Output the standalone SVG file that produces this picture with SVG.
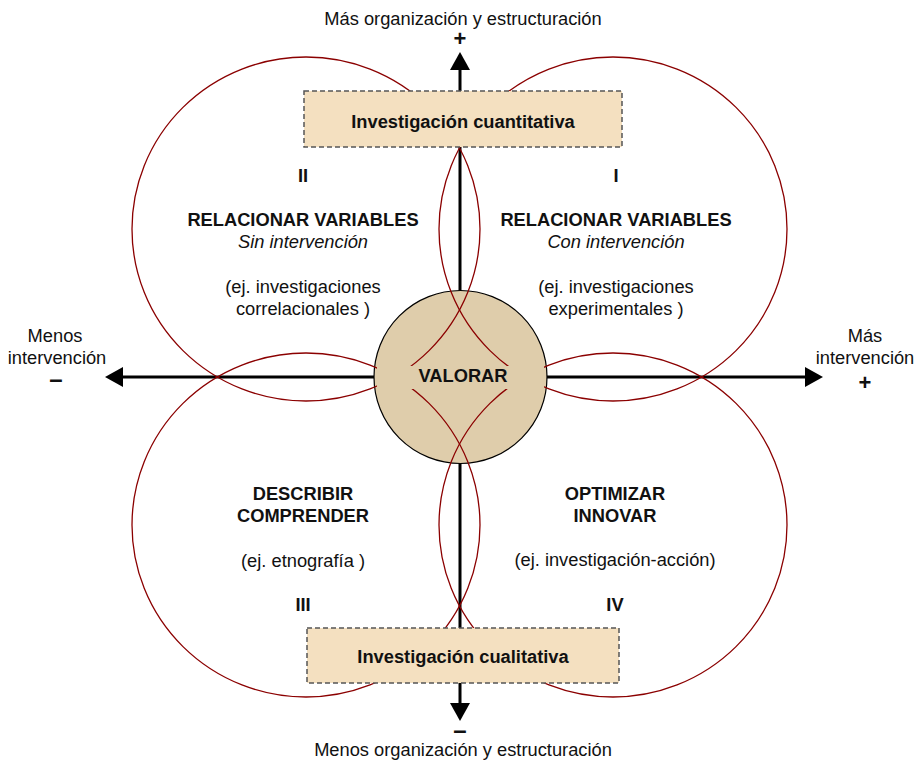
<svg xmlns="http://www.w3.org/2000/svg" width="914" height="760" viewBox="0 0 914 760">
  <defs>
    <marker id="arrow" viewBox="0 0 18 20" refX="0" refY="10" markerWidth="18" markerHeight="20" markerUnits="userSpaceOnUse" orient="auto">
      <path d="M0,0 L18,10 L0,20 Z" fill="#000"/>
    </marker>
    <style>
      text { font-family: "Liberation Sans", Arial, sans-serif; font-size: 18.3px; fill: #111; text-anchor: middle; }
      .b { font-weight: bold; }
      .i { font-style: italic; }
      .axis { stroke: #000; stroke-width: 3; fill: none; marker-end: url(#arrow); }
      .lobe { fill: none; stroke: #8b0000; stroke-width: 1.3; }
      .box { fill: #f4e0c0; stroke: #555; stroke-width: 1.5; stroke-dasharray: 5 3; }
      .minus { font-weight: bold; font-size: 24px; }
      .plus { font-weight: bold; font-size: 22px; }
    </style>
  </defs>
  <rect width="914" height="760" fill="#fff"/>

  <g id="connectors">
    <path class="axis" d="M460,377 L460,70"/>
    <path class="axis" d="M460,377 L460,703"/>
    <path class="axis" d="M460,377 L123,377"/>
    <path class="axis" d="M460,377 L805,377"/>
  </g>

  <g id="valorar-circle">
    <circle cx="460.5" cy="377" r="86.5" fill="#dfcdab" stroke="#000" stroke-width="1.2"/>
  </g>

  <g id="q2">
    <ellipse class="lobe" cx="306" cy="229" rx="174" ry="172"/>
    <text class="b" x="303" y="182">II</text>
    <text class="b" x="303" y="226">RELACIONAR VARIABLES</text>
    <text class="i" x="303" y="248">Sin intervención</text>
    <text x="303" y="293">(ej. investigaciones</text>
    <text x="303" y="315">correlacionales )</text>
  </g>

  <g id="q1">
    <ellipse class="lobe" cx="613" cy="229" rx="174" ry="172"/>
    <text class="b" x="616" y="182">I</text>
    <text class="b" x="616" y="226">RELACIONAR VARIABLES</text>
    <text class="i" x="616" y="248">Con intervención</text>
    <text x="616" y="293">(ej. investigaciones</text>
    <text x="616" y="315">experimentales )</text>
  </g>

  <g id="q3">
    <ellipse class="lobe" cx="306" cy="525" rx="174" ry="172"/>
    <text class="b" x="303" y="500">DESCRIBIR</text>
    <text class="b" x="303" y="522">COMPRENDER</text>
    <text x="303" y="567">(ej. etnografía )</text>
    <text class="b" x="303" y="611">III</text>
  </g>

  <g id="q4">
    <ellipse class="lobe" cx="613" cy="525" rx="174" ry="172"/>
    <text class="b" x="615" y="500">OPTIMIZAR</text>
    <text class="b" x="615" y="522">INNOVAR</text>
    <text x="615" y="566">(ej. investigación-acción)</text>
    <text class="b" x="615" y="611">IV</text>
  </g>

  <g id="valorar">
    <rect x="377" y="366" width="167" height="23" fill="#dfcdab"/>
    <text class="b" x="463" y="382">VALORAR</text>
  </g>

  <g id="box-cuantitativa">
    <rect class="box" x="304" y="91" width="318" height="56"/>
    <text class="b" x="463" y="128">Investigación cuantitativa</text>
  </g>

  <g id="box-cualitativa">
    <rect class="box" x="307" y="628" width="312" height="55"/>
    <text class="b" x="463" y="663">Investigación cualitativa</text>
  </g>

  <g id="axis-top">
    <text x="463" y="25">Más organización y estructuración</text>
    <text class="plus" x="460" y="46">+</text>
  </g>
  <g id="axis-bottom">
    <text class="minus" x="460" y="738">–</text>
    <text x="463" y="756">Menos organización y estructuración</text>
  </g>
  <g id="axis-left">
    <text x="55" y="342">Menos</text>
    <text x="57" y="364">intervención</text>
    <text class="minus" x="56" y="387">–</text>
  </g>
  <g id="axis-right">
    <text x="865" y="342">Más</text>
    <text x="865" y="364">intervención</text>
    <text class="plus" x="865" y="390">+</text>
  </g>
</svg>
